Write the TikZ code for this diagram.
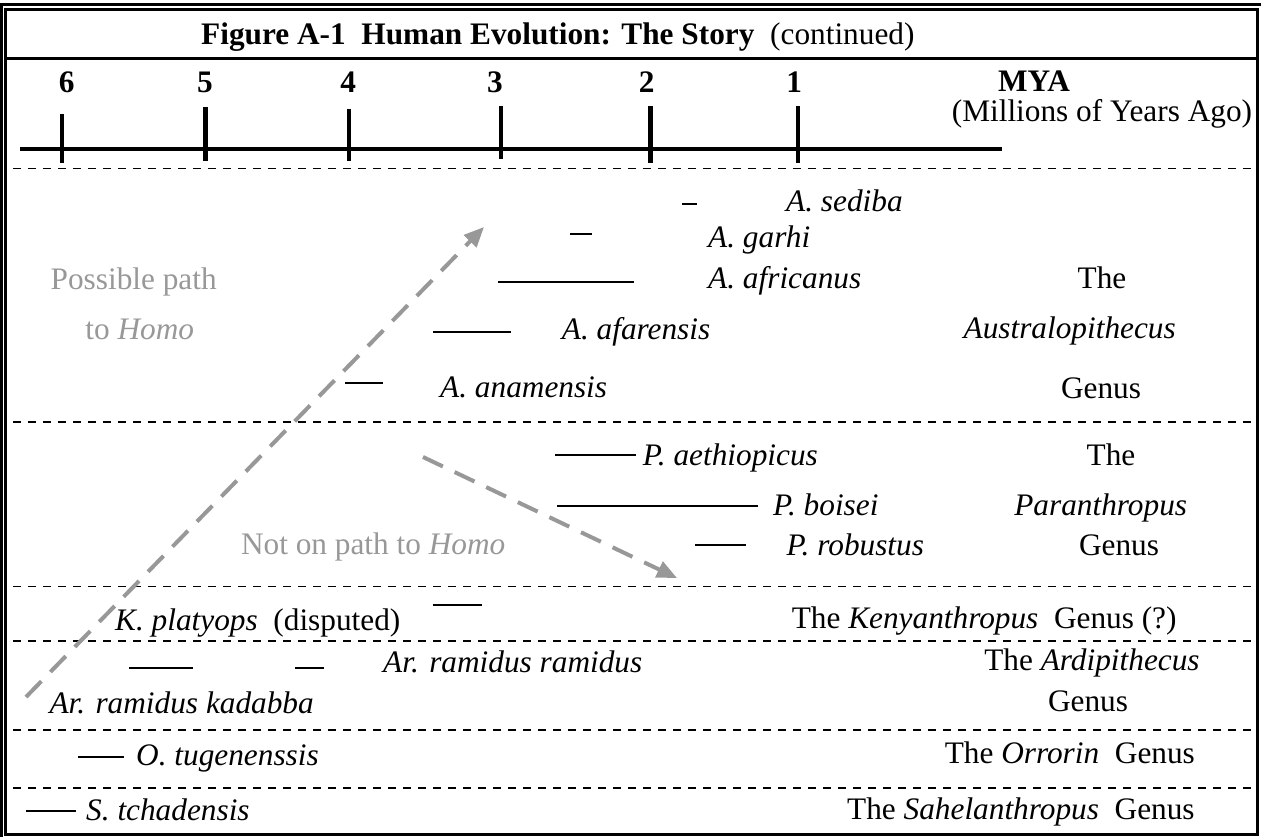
\documentclass[tikz,border=0pt]{standalone}
\usepackage{fontspec}
\setmainfont{Liberation Serif}
\usetikzlibrary{arrows.meta}
\definecolor{pathgray}{RGB}{152,152,152}
\newcommand\figfs{\fontsize{31.3}{36}\selectfont}
\begin{document}
\begin{tikzpicture}[x=1pt,y=-1pt,
  txt/.style={inner sep=0pt, font=\figfs},
  lbl/.style={txt, anchor=base west},
  ctr/.style={txt, anchor=base},
  gtxt/.style={text=pathgray},
  frame/.style={line width=3pt},
  rng/.style={line width=2pt},
  tick/.style={line width=4.3pt},
  sep/.style={line width=1.6pt, dash pattern=on 8pt off 7pt},
  garrow/.style={draw=pathgray, line width=4pt, dash pattern=on 22pt off 13pt,
    -{Triangle[length=20pt,width=17pt]}}]
\useasboundingbox (0,0) rectangle (1262,837);
% frame
\draw[frame] (5.3,10) rectangle (1257,834);
\draw[frame] (1.3,836.5) -- (1.3,5) -- (1261,5);
\draw[line width=2.7pt] (5.3,58.7) -- (1257,58.7);
% title
\node[lbl] (title) at (201,45) {\textbf{Figure A-1~~Human Evolution: The Story}};
\node[lbl] (cont) at (770,45) {(continued)};
% timeline
\draw[line width=4pt] (20,149) -- (1002,149);
\draw[tick] (62.2,114) -- (62.2,163);
\draw[tick] (205.5,107) -- (205.5,161);
\draw[tick] (348.8,109) -- (348.8,161);
\draw[tick] (501,106) -- (501,159.5);
\draw[tick] (650.5,106) -- (650.5,163);
\draw[tick] (798,106) -- (798,163);
\node[ctr] (n6) at (66.7,93) {\textbf{6}};
\node[ctr] (n5) at (205,93) {\textbf{5}};
\node[ctr] (n4) at (348.3,93) {\textbf{4}};
\node[ctr] (n3) at (495,93) {\textbf{3}};
\node[ctr] (n2) at (646.7,93) {\textbf{2}};
\node[ctr] (n1) at (794.3,93) {\textbf{1}};
\node[ctr] (mya) at (1034,92) {\textbf{MYA}};
\node[ctr] (myadesc) at (1102,122) {(Millions of Years Ago)};
% separators
\foreach \yy in {168.5,421.7,586.5,640.7,730,787.7}
  \draw[sep] (13,\yy) -- (1253,\yy);
% Australopithecus
\draw[rng] (682,204) -- (697,204);
\draw[rng] (570,234) -- (592,234);
\draw[rng] (498,281.7) -- (634,281.7);
\draw[rng] (433,332.3) -- (511,332.3);
\draw[rng] (345,383.3) -- (383,383.3);
\node[lbl] (sed) at (786,211.7) {\textit{A. sediba}};
\node[lbl] (gar) at (708,247.3) {\textit{A. garhi}};
\node[lbl] (afr) at (708,288.3) {\textit{A. africanus}};
\node[lbl] (afa) at (561.7,340) {\textit{A. afarensis}};
\node[lbl] (ana) at (440,397.3) {\textit{A. anamensis}};
\node[ctr] (aus1) at (1102,288.3) {The};
\node[ctr] (aus2) at (1069.7,338.3) {\textit{Australopithecus}};
\node[ctr] (aus3) at (1101,398.3) {Genus};
\node[ctr,gtxt] (pp1) at (133.7,289.3) {Possible path};
\node[ctr,gtxt] (pp2) at (139.8,340) {to \textit{Homo}};
% Paranthropus
\draw[rng] (555,455) -- (636,455);
\draw[rng] (557,505.7) -- (758,505.7);
\draw[rng] (695,545) -- (746,545);
\node[lbl] (aet) at (642.6,465.7) {\textit{P. aethiopicus}};
\node[lbl] (boi) at (772.8,515) {\textit{P. boisei}};
\node[lbl] (rob) at (786.4,555) {\textit{P. robustus}};
\node[ctr] (par1) at (1111,465.7) {The};
\node[ctr] (par2) at (1100.7,515) {\textit{Paranthropus}};
\node[ctr] (par3) at (1119,555) {Genus};
\node[lbl,gtxt] (notp) at (240.8,554) {Not on path to \textit{Homo}};
% Kenyanthropus
\draw[rng] (433,605) -- (482,605);
\node[lbl] (pla) at (115,630) {\textit{K. platyops}~~(disputed)};
\node[lbl] (ken) at (791.6,628.3) {The \textit{Kenyanthropus}~~Genus (?)};
% Ardipithecus
\draw[rng] (129,668.3) -- (193,668.3);
\draw[rng] (295,668.3) -- (324,668.3);
\node[lbl] (ram) at (383,672.5) {\textit{Ar. ramidus ramidus}};
\node[lbl] (kad) at (49.3,713.3) {\textit{Ar. ramidus kadabba}};
\node[ctr] (ard1) at (1092,670) {The \textit{Ardipithecus}};
\node[ctr] (ard2) at (1088,711.7) {Genus};
% Orrorin
\draw[rng] (78,756.7) -- (124,756.7);
\node[lbl] (tug) at (136,765) {\textit{O. tugenenssis}};
\node[lbl] (orr) at (944.6,763.3) {The \textit{Orrorin}~~Genus};
% Sahelanthropus
\draw[rng] (26,810.7) -- (76,810.7);
\node[lbl] (tch) at (86,820) {\textit{S. tchadensis}};
\node[lbl] (sah) at (847,819.3) {The \textit{Sahelanthropus}~~Genus};
% path arrows
\coordinate (homoStart) at (26,697);
\coordinate (homoEnd) at (484,227);
\coordinate (notStart) at (423,457);
\coordinate (notEnd) at (677,578);
\draw[garrow] (homoStart) -- (homoEnd);
\draw[garrow] (notStart) -- (notEnd);
\end{tikzpicture}
\end{document}
